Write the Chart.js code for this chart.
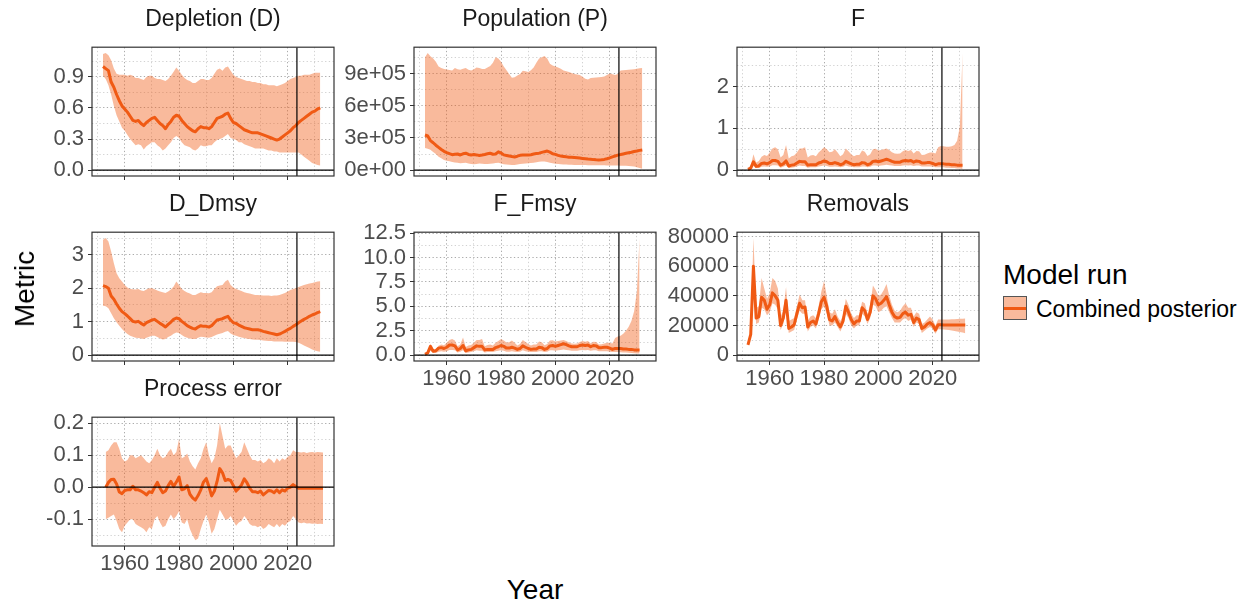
<!DOCTYPE html>
<html>
<head>
<meta charset="utf-8">
<script src="https://cdn.jsdelivr.net/npm/chart.js"></script>
<style>
  body { margin: 0; background: #fff; font-family: 'Liberation Sans', Arial, sans-serif; }
  #fig { position: relative; width: 1249px; height: 607px; overflow: hidden; background: #fff; }
  .txt { position: absolute; white-space: nowrap; }
</style>
</head>
<body>
<div id="fig"></div>
<script>
// ---- data ----
const years = [
  1952, 1953, 1954, 1955, 1956, 1957, 1958, 1959,
  1960, 1961, 1962, 1963, 1964, 1965, 1966, 1967, 1968, 1969,
  1970, 1971, 1972, 1973, 1974, 1975, 1976, 1977, 1978, 1979,
  1980, 1981, 1982, 1983, 1984, 1985, 1986, 1987, 1988, 1989,
  1990, 1991, 1992, 1993, 1994, 1995, 1996, 1997, 1998, 1999,
  2000, 2001, 2002, 2003, 2004, 2005, 2006, 2007, 2008, 2009,
  2010, 2011, 2012, 2013, 2014, 2015, 2016, 2017, 2018, 2019,
  2020, 2021, 2022, 2023, 2024, 2025, 2026, 2027, 2028, 2029,
  2030, 2031, 2032, 2033
];

const depMed = [
  1.00, 0.98, 0.96, 0.85, 0.80, 0.73, 0.67, 0.62,
  0.59, 0.56, 0.52, 0.48, 0.47, 0.48, 0.45, 0.43, 0.46, 0.48,
  0.50, 0.51, 0.48, 0.45, 0.43, 0.40, 0.44, 0.47, 0.51, 0.53,
  0.52, 0.48, 0.45, 0.42, 0.40, 0.38, 0.37, 0.40, 0.42, 0.41,
  0.41, 0.40, 0.42, 0.46, 0.50, 0.51, 0.52, 0.54, 0.55, 0.50,
  0.46, 0.45, 0.43, 0.41, 0.39, 0.38, 0.37, 0.36, 0.36, 0.36,
  0.35, 0.34, 0.33, 0.32, 0.31, 0.30, 0.29, 0.30, 0.32, 0.34,
  0.36, 0.38, 0.41, 0.43, 0.46, 0.48, 0.50, 0.52, 0.54, 0.56,
  0.57, 0.59, 0.60, null
];
const depHi = [
  1.12, 1.13, 1.11, 1.06, 0.98, 0.93, 0.92, 0.92,
  0.92, 0.91, 0.92, 0.91, 0.89, 0.89, 0.88, 0.87, 0.90, 0.91,
  0.91, 0.89, 0.88, 0.88, 0.87, 0.86, 0.88, 0.91, 0.95, 0.99,
  0.96, 0.92, 0.89, 0.87, 0.86, 0.84, 0.84, 0.86, 0.88, 0.88,
  0.87, 0.87, 0.89, 0.93, 0.97, 0.98, 0.96, 0.99, 1.00, 0.96,
  0.92, 0.90, 0.89, 0.88, 0.87, 0.86, 0.86, 0.85, 0.85, 0.84,
  0.84, 0.83, 0.83, 0.82, 0.82, 0.82, 0.81, 0.82, 0.83, 0.84,
  0.86, 0.88, 0.89, 0.90, 0.91, 0.91, 0.92, 0.92, 0.92, 0.93,
  0.94, 0.94, 0.94, null
];
const depLo = [
  0.91, 0.88, 0.82, 0.73, 0.62, 0.53, 0.47, 0.41,
  0.38, 0.34, 0.30, 0.27, 0.24, 0.25, 0.24, 0.20, 0.23, 0.25,
  0.27, 0.27, 0.24, 0.22, 0.19, 0.21, 0.24, 0.27, 0.31, 0.33,
  0.31, 0.27, 0.24, 0.23, 0.22, 0.20, 0.19, 0.21, 0.24, 0.23,
  0.23, 0.24, 0.24, 0.27, 0.29, 0.30, 0.31, 0.33, 0.35, 0.31,
  0.30, 0.29, 0.27, 0.27, 0.25, 0.24, 0.23, 0.22, 0.21, 0.21,
  0.21, 0.21, 0.20, 0.19, 0.19, 0.18, 0.18, 0.17, 0.17, 0.17,
  0.17, 0.17, 0.17, 0.17, 0.17, 0.15, 0.13, 0.11, 0.09, 0.07,
  0.06, 0.05, 0.045, null
];

const popMed = [
  327000, 318000, 275000, 255000, 232000, 212000, 192000, 175000,
  163000, 153000, 144000, 148000, 150000, 141000, 152000, 158000, 146000, 141000,
  145000, 142000, 137000, 141000, 146000, 152000, 157000, 148000, 150000, 170000,
  160000, 142000, 137000, 132000, 127000, 123000, 130000, 138000, 141000, 140000,
  140000, 144000, 150000, 154000, 158000, 165000, 172000, 178000, 168000, 153000,
  147000, 138000, 131000, 128000, 124000, 121000, 119000, 117000, 115000, 112000,
  109000, 106000, 103000, 101000, 98000, 96000, 95000, 96000, 100000, 106000,
  114000, 124000, 132000, 140000, 145000, 151000, 157000, 162000, 167000, 173000,
  178000, 184000, 188000, null
];
const popHi = [
  1050000, 1090000, 1060000, 1040000, 1010000, 965000, 950000, 942000,
  938000, 932000, 928000, 950000, 940000, 934000, 945000, 950000, 935000, 928000,
  940000, 955000, 950000, 942000, 942000, 955000, 970000, 1000000, 1050000, 1040000,
  1010000, 965000, 930000, 895000, 860000, 865000, 880000, 895000, 925000, 920000,
  914000, 930000, 956000, 1000000, 1040000, 1050000, 1063000, 1040000, 990000, 975000,
  965000, 956000, 945000, 928000, 920000, 914000, 905000, 895000, 890000, 886000,
  870000, 850000, 844000, 858000, 860000, 862000, 865000, 868000, 872000, 885000,
  900000, 892000, 886000, 895000, 928000, 930000, 932000, 934000, 936000, 940000,
  944000, 948000, 950000, null
];
const popLo = [
  207000, 200000, 190000, 170000, 150000, 125000, 110000, 95000,
  88000, 82000, 76000, 72000, 68000, 65000, 66000, 68000, 62000, 58000,
  56000, 58000, 62000, 60000, 58000, 57000, 60000, 63000, 67000, 70000,
  62000, 56000, 52000, 50000, 48000, 49000, 53000, 57000, 60000, 62000,
  64000, 66000, 70000, 74000, 78000, 81000, 80000, 76000, 70000, 65000,
  60000, 57000, 55000, 53000, 52000, 51000, 50000, 49000, 48000, 48000,
  47000, 47000, 46000, 46000, 45000, 45000, 45000, 45000, 45000, 44000,
  44000, 43000, 43000, 43000, 42000, 41000, 40000, 39000, 37000, 34000,
  28000, 20000, 14000, null
];

const fMed = [
  0.02, 0.05, 0.20, 0.09, 0.10, 0.16, 0.17, 0.15,
  0.18, 0.23, 0.23, 0.21, 0.12, 0.15, 0.22, 0.10, 0.12, 0.13,
  0.17, 0.21, 0.20, 0.20, 0.12, 0.13, 0.13, 0.13, 0.17, 0.19,
  0.22, 0.20, 0.16, 0.16, 0.18, 0.16, 0.13, 0.15, 0.21, 0.18,
  0.15, 0.13, 0.14, 0.14, 0.18, 0.17, 0.13, 0.15, 0.21, 0.22,
  0.20, 0.22, 0.24, 0.26, 0.24, 0.21, 0.19, 0.19, 0.19, 0.22,
  0.23, 0.22, 0.23, 0.19, 0.22, 0.21, 0.17, 0.17, 0.18, 0.18,
  0.16, 0.13, 0.15, 0.15, 0.15, 0.14, 0.14, 0.13, 0.13, 0.12,
  0.12, 0.12, null, null
];
const fHi = [
  0.03, 0.10, 0.38, 0.18, 0.22, 0.32, 0.36, 0.34,
  0.42, 0.52, 0.55, 0.50, 0.30, 0.36, 0.60, 0.28, 0.33, 0.35,
  0.42, 0.52, 0.52, 0.55, 0.30, 0.35, 0.36, 0.33, 0.42, 0.48,
  0.55, 0.50, 0.43, 0.44, 0.50, 0.42, 0.33, 0.38, 0.52, 0.45,
  0.38, 0.33, 0.36, 0.36, 0.47, 0.44, 0.34, 0.38, 0.50, 0.51,
  0.47, 0.48, 0.50, 0.52, 0.48, 0.43, 0.40, 0.39, 0.40, 0.45,
  0.48, 0.46, 0.48, 0.40, 0.46, 0.45, 0.36, 0.37, 0.40, 0.42,
  0.42, 0.40, 0.55, 0.58, 0.57, 0.56, 0.56, 0.57, 0.60, 0.70,
  1.05, 2.80, null, null
];
const fLo = [
  0.01, 0.02, 0.10, 0.05, 0.05, 0.08, 0.09, 0.08,
  0.09, 0.12, 0.12, 0.11, 0.06, 0.08, 0.11, 0.05, 0.06, 0.07,
  0.09, 0.11, 0.10, 0.10, 0.06, 0.07, 0.07, 0.07, 0.09, 0.10,
  0.11, 0.10, 0.08, 0.08, 0.09, 0.08, 0.07, 0.08, 0.11, 0.09,
  0.08, 0.07, 0.07, 0.07, 0.09, 0.09, 0.07, 0.08, 0.11, 0.11,
  0.10, 0.11, 0.12, 0.13, 0.12, 0.11, 0.10, 0.10, 0.10, 0.11,
  0.12, 0.11, 0.12, 0.10, 0.11, 0.11, 0.09, 0.09, 0.09, 0.09,
  0.08, 0.07, 0.07, 0.07, 0.07, 0.06, 0.06, 0.05, 0.05, 0.04,
  0.04, 0.03, null, null
];

const ddMed = [
  2.08, 2.05, 2.00, 1.77, 1.67, 1.53, 1.40, 1.30,
  1.24, 1.17, 1.09, 1.01, 0.99, 1.01, 0.95, 0.90, 0.97, 1.01,
  1.05, 1.07, 1.01, 0.95, 0.90, 0.84, 0.92, 0.99, 1.07, 1.11,
  1.09, 1.01, 0.95, 0.88, 0.84, 0.80, 0.78, 0.84, 0.88, 0.86,
  0.86, 0.84, 0.88, 0.97, 1.05, 1.07, 1.09, 1.13, 1.16, 1.05,
  0.97, 0.95, 0.90, 0.86, 0.82, 0.80, 0.78, 0.76, 0.76, 0.76,
  0.74, 0.71, 0.69, 0.67, 0.65, 0.63, 0.61, 0.63, 0.67, 0.71,
  0.76, 0.80, 0.86, 0.91, 0.97, 1.02, 1.07, 1.11, 1.16, 1.20,
  1.23, 1.27, 1.30, null
];
const ddHi = [
  3.45, 3.50, 3.40, 3.10, 2.75, 2.45, 2.30, 2.20,
  2.10, 2.02, 1.98, 1.97, 1.96, 1.98, 1.93, 1.92, 1.96, 2.00,
  2.00, 1.97, 1.93, 1.90, 1.88, 1.86, 1.90, 1.96, 2.05, 2.20,
  2.10, 1.98, 1.92, 1.87, 1.84, 1.80, 1.80, 1.84, 1.88, 1.86,
  1.86, 1.85, 1.88, 1.98, 2.06, 2.08, 2.10, 2.20, 2.25, 2.10,
  2.02, 1.98, 1.95, 1.92, 1.88, 1.86, 1.84, 1.82, 1.80, 1.80,
  1.79, 1.78, 1.78, 1.78, 1.77, 1.78, 1.78, 1.80, 1.83, 1.86,
  1.90, 1.95, 1.98, 2.00, 2.04, 2.07, 2.10, 2.12, 2.14, 2.16,
  2.18, 2.20, 2.21, null
];
const ddLo = [
  1.48, 1.46, 1.40, 1.25, 1.10, 0.98, 0.88, 0.78,
  0.70, 0.63, 0.58, 0.55, 0.52, 0.51, 0.50, 0.48, 0.52, 0.55,
  0.58, 0.58, 0.54, 0.50, 0.47, 0.48, 0.54, 0.58, 0.64, 0.68,
  0.66, 0.60, 0.55, 0.52, 0.50, 0.48, 0.48, 0.52, 0.55, 0.54,
  0.53, 0.52, 0.54, 0.58, 0.62, 0.64, 0.66, 0.70, 0.72, 0.65,
  0.60, 0.58, 0.55, 0.53, 0.51, 0.49, 0.48, 0.47, 0.46, 0.46,
  0.45, 0.44, 0.43, 0.42, 0.42, 0.41, 0.41, 0.41, 0.41, 0.40,
  0.40, 0.40, 0.40, 0.39, 0.37, 0.33, 0.29, 0.25, 0.21, 0.17,
  0.14, 0.12, 0.10, null
];

const ffMed = [
  0.09, 0.23, 0.90, 0.41, 0.45, 0.72, 0.77, 0.68,
  0.81, 1.04, 1.04, 0.95, 0.54, 0.68, 0.99, 0.45, 0.54, 0.59,
  0.77, 0.95, 0.90, 0.90, 0.54, 0.59, 0.59, 0.59, 0.77, 0.86,
  0.99, 0.90, 0.72, 0.72, 0.81, 0.72, 0.59, 0.68, 0.95, 0.81,
  0.68, 0.59, 0.63, 0.63, 0.81, 0.77, 0.59, 0.68, 0.95, 0.99,
  0.90, 0.99, 1.08, 1.17, 1.08, 0.95, 0.86, 0.86, 0.86, 0.99,
  1.04, 0.99, 1.04, 0.86, 0.99, 0.95, 0.77, 0.77, 0.81, 0.81,
  0.72, 0.59, 0.68, 0.68, 0.68, 0.63, 0.63, 0.59, 0.59, 0.54,
  0.54, 0.54, null, null
];
const ffHi = [
  0.10, 0.30, 1.15, 0.55, 0.66, 0.96, 1.08, 1.02,
  1.26, 1.56, 1.65, 1.50, 0.90, 1.08, 1.80, 0.84, 0.99, 1.05,
  1.26, 1.56, 1.56, 1.65, 0.90, 1.05, 1.08, 0.99, 1.26, 1.44,
  1.65, 1.50, 1.29, 1.32, 1.50, 1.26, 0.99, 1.14, 1.56, 1.35,
  1.14, 0.99, 1.08, 1.08, 1.41, 1.32, 1.02, 1.14, 1.50, 1.53,
  1.41, 1.44, 1.50, 1.56, 1.44, 1.29, 1.20, 1.17, 1.20, 1.35,
  1.44, 1.38, 1.44, 1.20, 1.38, 1.35, 1.08, 1.11, 1.20, 1.26,
  1.26, 1.20, 1.75, 1.90, 2.00, 2.20, 2.50, 2.90, 3.50, 4.50,
  6.50, 12.0, null, null
];
const ffLo = [
  0.04, 0.09, 0.45, 0.23, 0.23, 0.36, 0.41, 0.36,
  0.41, 0.54, 0.54, 0.50, 0.27, 0.36, 0.50, 0.23, 0.27, 0.32,
  0.41, 0.50, 0.45, 0.45, 0.27, 0.32, 0.32, 0.32, 0.41, 0.45,
  0.50, 0.45, 0.36, 0.36, 0.41, 0.36, 0.32, 0.36, 0.50, 0.41,
  0.36, 0.32, 0.32, 0.32, 0.41, 0.41, 0.32, 0.36, 0.50, 0.50,
  0.45, 0.50, 0.54, 0.59, 0.54, 0.50, 0.45, 0.45, 0.45, 0.50,
  0.54, 0.50, 0.54, 0.45, 0.50, 0.50, 0.41, 0.41, 0.41, 0.41,
  0.36, 0.32, 0.32, 0.32, 0.30, 0.28, 0.26, 0.24, 0.22, 0.20,
  0.18, 0.16, null, null
];

const remMed = [
  7000, 14000, 60000, 25000, 26000, 39000, 37000, 31000,
  34000, 42000, 40000, 37000, 20000, 25000, 37000, 18000, 19000, 20500,
  28000, 35000, 32000, 32500, 19000, 22000, 23000, 21000, 28000, 36000,
  39000, 33000, 24000, 23000, 26000, 22000, 19000, 23000, 33000, 29000,
  24000, 21000, 23000, 23000, 32000, 30000, 24000, 29000, 40000, 38000,
  34000, 35000, 37000, 39500, 34000, 29000, 26000, 25000, 25500, 28000,
  29000, 27000, 27500, 22000, 25000, 24000, 18000, 19000, 21000, 22000,
  20500, 17000, 20500, 20500, 20300, 20300, 20300, 20300, 20300, 20300,
  20300, 20300, 20300, null
];
const remHi = [
  8000, 16000, 79000, 32000, 33000, 52000, 45000, 38000,
  42000, 52000, 50000, 45000, 26000, 30000, 46000, 23000, 24000, 25000,
  33000, 41000, 37000, 37000, 23000, 26000, 27000, 25000, 33000, 43000,
  50000, 40000, 29000, 28000, 31000, 26000, 23000, 27000, 38000, 34000,
  28000, 25000, 27000, 27000, 36000, 35000, 28000, 34000, 47000, 44000,
  40000, 41000, 44000, 48000, 40000, 34000, 30000, 29000, 30000, 33000,
  35000, 32000, 32000, 26000, 29000, 28000, 21000, 22000, 24000, 26000,
  24000, 20000, 24000, 24000, 24000, 24000, 24100, 24200, 24300, 24400,
  24500, 24600, 24700, null
];
const remLo = [
  6000, 12000, 45000, 21000, 22000, 32000, 31000, 27000,
  29000, 35000, 34000, 31000, 17000, 21000, 31000, 15000, 16000, 17000,
  24000, 30000, 28000, 28000, 16000, 19000, 20000, 18000, 24000, 31000,
  33000, 28000, 20000, 20000, 22000, 19000, 16000, 20000, 28000, 25000,
  20000, 18000, 20000, 20000, 28000, 26000, 21000, 25000, 34000, 33000,
  29000, 30000, 32000, 33000, 29000, 25000, 22000, 22000, 22000, 24000,
  25000, 23000, 24000, 19000, 22000, 21000, 15000, 16500, 18000, 19000,
  18000, 14500, 17500, 17500, 17300, 17100, 16900, 16600, 16300, 16000,
  15600, 15200, 14800, null
];

const peMed = [
  null, 0.000, 0.015, 0.024, 0.025, 0.010, -0.015, -0.020,
  -0.010, -0.008, -0.008, 0.003, -0.008, -0.008, -0.012, -0.017, -0.024, -0.014,
  -0.017, 0.000, 0.015, -0.003, -0.017, -0.012, 0.005, 0.018, 0.002, 0.016,
  0.032, -0.008, -0.005, 0.005, -0.022, -0.033, -0.040, -0.026, -0.008, 0.016,
  0.027, 0.002, -0.027, -0.012, 0.018, 0.058, 0.045, 0.021, 0.024, 0.021,
  0.005, -0.012, -0.003, 0.007, 0.026, 0.014, -0.003, -0.014, -0.014, -0.017,
  -0.012, -0.024, -0.017, -0.010, -0.012, -0.017, -0.008, -0.017, -0.008, -0.012,
  -0.003, 0.000, 0.008, 0.002, -0.003, -0.003, -0.003, -0.003, -0.003, -0.003,
  -0.003, -0.003, -0.003, -0.003
];
const peHi = [
  null, 0.110, 0.115, 0.130, 0.140, 0.140, 0.120, 0.090,
  0.080, 0.085, 0.100, 0.100, 0.090, 0.095, 0.100, 0.090, 0.080, 0.075,
  0.085, 0.100, 0.120, 0.100, 0.090, 0.095, 0.110, 0.120, 0.100, 0.110,
  0.150, 0.090, 0.095, 0.105, 0.080, 0.065, 0.055, 0.075, 0.090, 0.120,
  0.140, 0.100, 0.075, 0.090, 0.130, 0.200, 0.160, 0.120, 0.130, 0.130,
  0.110, 0.090, 0.100, 0.110, 0.140, 0.120, 0.100, 0.085, 0.085, 0.080,
  0.085, 0.075, 0.080, 0.090, 0.085, 0.075, 0.090, 0.080, 0.090, 0.085,
  0.095, 0.100, 0.115, 0.110, 0.110, 0.108, 0.110, 0.107, 0.109, 0.110,
  0.108, 0.110, 0.109, 0.108
];
const peLo = [
  null, -0.100, -0.095, -0.090, -0.085, -0.105, -0.130, -0.140,
  -0.120, -0.110, -0.100, -0.100, -0.115, -0.120, -0.125, -0.130, -0.140, -0.125,
  -0.130, -0.100, -0.090, -0.110, -0.125, -0.120, -0.100, -0.085, -0.100, -0.090,
  -0.075, -0.110, -0.115, -0.100, -0.130, -0.150, -0.165, -0.160, -0.130, -0.105,
  -0.085, -0.110, -0.145, -0.130, -0.100, -0.070, -0.085, -0.100, -0.100, -0.090,
  -0.105, -0.120, -0.110, -0.105, -0.090, -0.100, -0.115, -0.120, -0.120, -0.125,
  -0.120, -0.130, -0.125, -0.115, -0.120, -0.125, -0.115, -0.125, -0.115, -0.120,
  -0.110, -0.105, -0.090, -0.100, -0.110, -0.112, -0.110, -0.113, -0.112, -0.114,
  -0.113, -0.115, -0.114, -0.115
];

// tick positions and labels
const xMajor = [1960, 1980, 2000, 2020];
const xMinor = [1950, 1970, 1990, 2010, 2030];
const depTicks = [0, 0.3, 0.6, 0.9];
const depTickLabels = ['0.0', '0.3', '0.6', '0.9'];
const depMinor = [0.15, 0.45, 0.75, 1.05];
const popTicks = [0, 300000, 600000, 900000];
const popTickLabels = ['0e+00', '3e+05', '6e+05', '9e+05'];
const popMinor = [150000, 450000, 750000, 1050000];
const fTicks = [0, 1, 2];
const fTickLabels = ['0', '1', '2'];
const fMinor = [0.5, 1.5, 2.5];
const ddTicks = [0, 1, 2, 3];
const ddTickLabels = ['0', '1', '2', '3'];
const ddMinor = [0.5, 1.5, 2.5, 3.5];
const ffTicks = [0, 2.5, 5, 7.5, 10, 12.5];
const ffTickLabels = ['0.0', '2.5', '5.0', '7.5', '10.0', '12.5'];
const ffMinor = [1.25, 3.75, 6.25, 8.75, 11.25];
const remTicks = [0, 20000, 40000, 60000, 80000];
const remTickLabels = ['0', '20000', '40000', '60000', '80000'];
const remMinor = [10000, 30000, 50000, 70000];
const peTicks = [-0.1, 0, 0.1, 0.2];
const peTickLabels = ['-0.1', '0.0', '0.1', '0.2'];
const peMinor = [-0.15, -0.05, 0.05, 0.15];

const refYear = 2023.4;

// ---- layout / style ----
const LINE = '#F05A14';
const RIBBON = 'rgba(240, 90, 20, 0.42)';
const X_MIN = 1947.95, X_MAX = 2037.05;
const colLeft = [92, 414, 737];
const rowTop = [34, 219, 404];
const PW = 242, PH = 142;
const YW = 92, XH = 40, PADT = 4, PADR = 6;
const TICK_FONT = 22;

Chart.defaults.font.family = "'Liberation Sans', Arial, sans-serif";

const panels = [
  { title: 'Depletion (D)', col: 0, row: 0, med: depMed, hi: depHi, lo: depLo, ticks: depTicks, labels: depTickLabels, minor: depMinor, xLab: false },
  { title: 'Population (P)', col: 1, row: 0, med: popMed, hi: popHi, lo: popLo, ticks: popTicks, labels: popTickLabels, minor: popMinor, xLab: false },
  { title: 'F', col: 2, row: 0, med: fMed, hi: fHi, lo: fLo, ticks: fTicks, labels: fTickLabels, minor: fMinor, xLab: false },
  { title: 'D_Dmsy', col: 0, row: 1, med: ddMed, hi: ddHi, lo: ddLo, ticks: ddTicks, labels: ddTickLabels, minor: ddMinor, xLab: false },
  { title: 'F_Fmsy', col: 1, row: 1, med: ffMed, hi: ffHi, lo: ffLo, ticks: ffTicks, labels: ffTickLabels, minor: ffMinor, xLab: true },
  { title: 'Removals', col: 2, row: 1, med: remMed, hi: remHi, lo: remLo, ticks: remTicks, labels: remTickLabels, minor: remMinor, xLab: true },
  { title: 'Process error', col: 0, row: 2, med: peMed, hi: peHi, lo: peLo, ticks: peTicks, labels: peTickLabels, minor: peMinor, xLab: true }
];

const fig = document.getElementById('fig');

function addText(txt, css) {
  const d = document.createElement('div');
  d.className = 'txt';
  d.textContent = txt;
  d.style.cssText = css;
  fig.appendChild(d);
  return d;
}

function pts(arr) {
  return years.map((yr, i) => ({ x: yr, y: arr[i] })).filter(p => p.y !== null);
}

const framePlugin = {
  id: 'frame',
  afterDraw(chart) {
    const { ctx, chartArea: a } = chart;
    ctx.save();
    ctx.strokeStyle = '#333333';
    ctx.lineWidth = 1.2;
    ctx.strokeRect(a.left, a.top, a.right - a.left, a.bottom - a.top);
    ctx.restore();
  }
};

panels.forEach(p => {
  const lo = Math.min(0, ...p.lo.filter(v => v !== null));
  const hi = Math.max(...p.hi.filter(v => v !== null));
  const yMin = lo - 0.05 * (hi - lo);
  const yMax = hi + 0.05 * (hi - lo);

  const left = colLeft[p.col], top = rowTop[p.row];
  const wrap = document.createElement('div');
  wrap.style.cssText = `position:absolute;left:${left - YW}px;top:${top - PADT}px;width:${YW + PW + PADR}px;height:${PADT + PH + XH}px;`;
  const cv = document.createElement('canvas');
  wrap.appendChild(cv);
  fig.appendChild(wrap);

  addText(p.title, `left:${left + PW / 2}px;top:${top - 16}px;transform:translate(-50%,-50%);font-size:23px;line-height:23px;color:#1a1a1a;`);

  const yTicks = p.ticks.concat(p.minor).filter(v => v >= yMin && v <= yMax).sort((a, b) => a - b);
  const xTicks = xMajor.concat(xMinor).sort((a, b) => a - b);

  new Chart(cv, {
    type: 'line',
    data: {
      datasets: [
        { data: pts(p.lo), borderWidth: 0, pointRadius: 0, fill: false, order: 3 },
        { data: pts(p.hi), borderWidth: 0, pointRadius: 0, fill: '-1', backgroundColor: RIBBON, order: 3 },
        { data: pts(p.med), borderColor: LINE, borderWidth: 3, pointRadius: 0, fill: false, borderJoinStyle: 'round', order: 1 },
        { data: [{ x: X_MIN, y: 0 }, { x: X_MAX, y: 0 }], borderColor: '#000', borderWidth: 1.2, pointRadius: 0, fill: false, order: 0 },
        { data: [{ x: refYear, y: yMin }, { x: refYear, y: yMax }], borderColor: '#000', borderWidth: 1.2, pointRadius: 0, fill: false, order: 0 }
      ]
    },
    options: {
      responsive: true,
      maintainAspectRatio: false,
      animation: false,
      events: [],
      layout: { padding: { top: PADT, right: PADR, left: 0, bottom: 0 } },
      plugins: { legend: { display: false }, tooltip: { enabled: false } },
      scales: {
        x: {
          type: 'linear', min: X_MIN, max: X_MAX,
          afterBuildTicks: s => { s.ticks = xTicks.map(v => ({ value: v })); },
          afterFit: s => { s.height = XH; },
          ticks: {
            autoSkip: false, maxRotation: 0, padding: 1, color: '#4D4D4D', font: { size: TICK_FONT },
            callback: v => (p.xLab && xMajor.includes(v)) ? String(v) : ''
          },
          grid: {
            color: c => xMajor.includes(c.tick.value) ? '#ABABAB' : '#D2D2D2',
            tickColor: c => xMajor.includes(c.tick.value) ? '#333333' : 'rgba(0,0,0,0)',
            tickLength: 4, lineWidth: 1
          },
          border: { display: false, dash: [1.3, 2.4] }
        },
        y: {
          type: 'linear', min: yMin, max: yMax,
          afterBuildTicks: s => { s.ticks = yTicks.map(v => ({ value: v })); },
          afterFit: s => { s.width = YW; },
          ticks: {
            autoSkip: false, padding: 4, color: '#4D4D4D', font: { size: TICK_FONT },
            callback: v => { const i = p.ticks.indexOf(v); return i >= 0 ? p.labels[i] : ''; }
          },
          grid: {
            color: c => p.ticks.includes(c.tick.value) ? '#ABABAB' : '#D2D2D2',
            tickColor: c => p.ticks.includes(c.tick.value) ? '#333333' : 'rgba(0,0,0,0)',
            tickLength: 4, lineWidth: 1
          },
          border: { display: false, dash: [1.3, 2.4] }
        }
      }
    },
    plugins: [framePlugin]
  });
});

// axis titles
addText('Metric', 'left:25px;top:289px;transform:translate(-50%,-50%) rotate(-90deg);font-size:28px;line-height:28px;color:#000;');
addText('Year', 'left:535px;top:590px;transform:translate(-50%,-50%);font-size:28px;line-height:28px;color:#000;');

// legend
addText('Model run', 'left:1003px;top:275px;transform:translateY(-50%);font-size:28px;line-height:28px;color:#000;');
const key = document.createElement('div');
key.style.cssText = 'position:absolute;left:1003px;top:296px;width:22px;height:22px;border:1.2px solid #555;background:rgb(249,186,156);';
const keyLine = document.createElement('div');
keyLine.style.cssText = `position:absolute;left:0;right:0;top:9.5px;height:3px;background:${LINE};`;
key.appendChild(keyLine);
fig.appendChild(key);
addText('Combined posterior', 'left:1036px;top:309px;transform:translateY(-50%);font-size:23px;line-height:23px;color:#000;');
</script>
</body>
</html>
